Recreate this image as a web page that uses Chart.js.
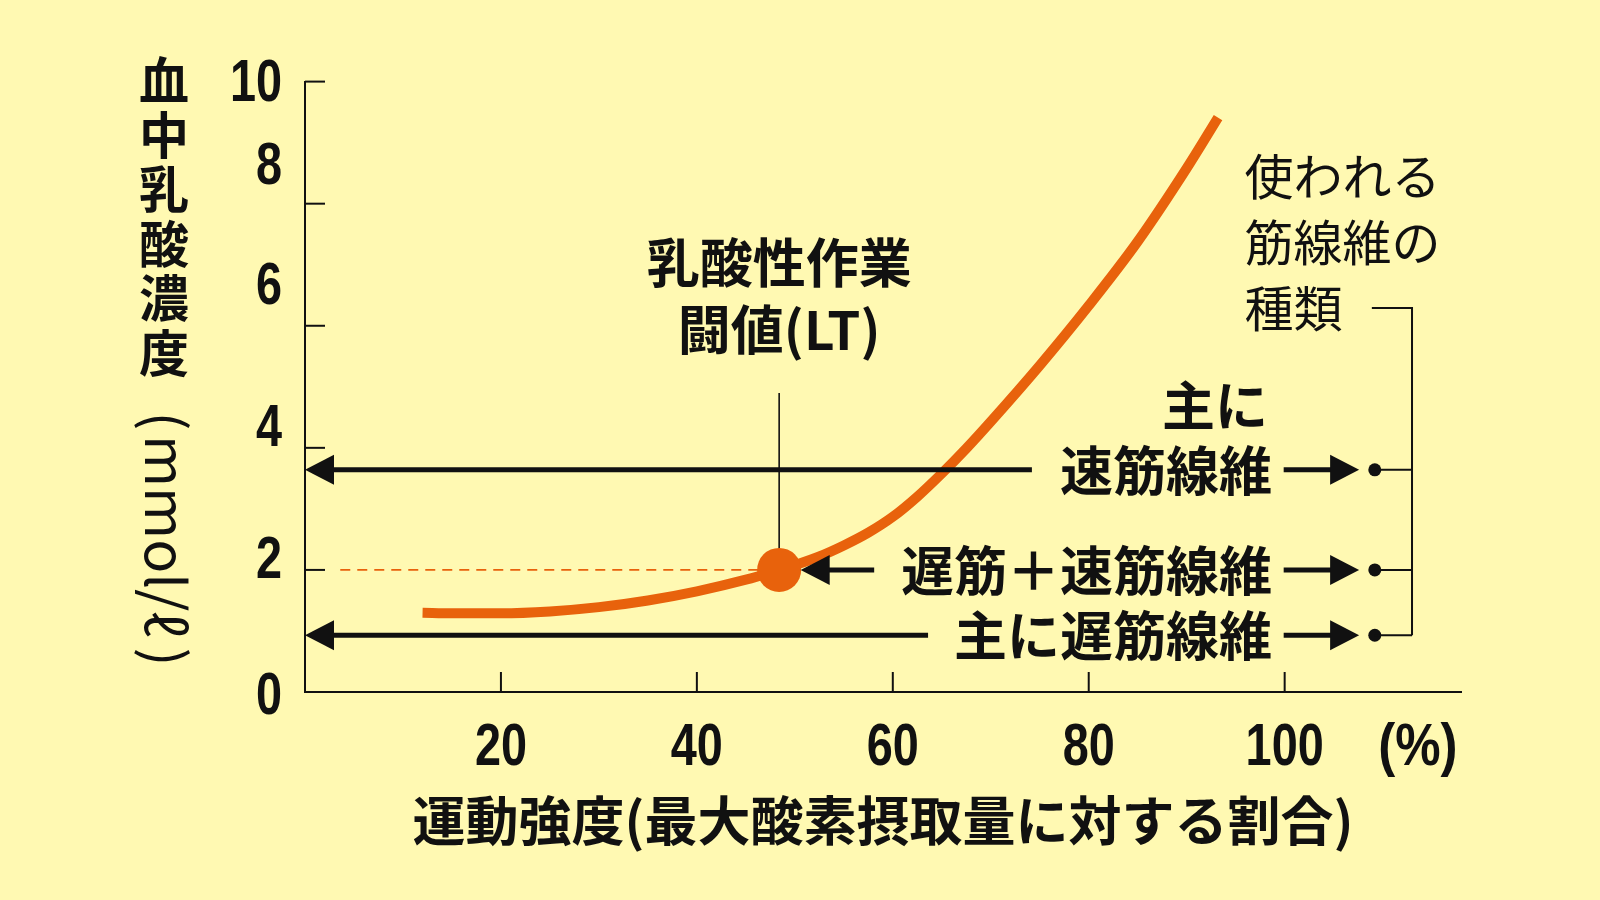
<!DOCTYPE html>
<html><head><meta charset="utf-8">
<script src="https://cdn.jsdelivr.net/npm/chart.js@4/dist/chart.umd.min.js"></script>
<style>html,body{margin:0;padding:0;background:#FFF9B2;} #wrap{width:1600px;height:900px;position:relative;} canvas{display:block}</style>
</head><body><div id="wrap"><canvas id="c" width="1600" height="900"></canvas></div>
<script>
// ---- data ----
const intensity = [12, 15, 20, 25, 30, 35, 40, 45, 48.4, 50, 52.5, 55, 57.5, 60, 62.5, 65, 67.5, 70, 75, 80, 85, 90, 93.2];
const lactate   = [1.30, 1.29, 1.29, 1.32, 1.39, 1.50, 1.65, 1.84, 2.0, 2.08, 2.22, 2.40, 2.61, 2.87, 3.20, 3.58, 3.99, 4.43, 5.35, 6.33, 7.38, 8.58, 9.41];
const ltIntensity = 48.4;
const ltLactate = 2.0;
const xTickValues = [20, 40, 60, 80, 100];
const yTickValues = [0, 2, 4, 6, 8, 10];
const xUnit = '(%)';
const xTitle = '運動強度(最大酸素摂取量に対する割合)';
const yTitleChars = ['血', '中', '乳', '酸', '濃', '度'];
const yUnitParts = ['(', 'mmol/ℓ', ')'];
const ltLabel = ['乳酸性作業', '闘値(LT)'];
const fiberLabels = ['速筋線維', '遅筋＋速筋線維', '主に遅筋線維'];
const fiberPrefix = '主に';
const fiberLevels = [3.64, 2.0, 0.93];
const fiberTitle = ['使われる', '筋線維の', '種類'];

// ---- styles / layout ----
const ORANGE = '#E8620C';
const INK = '#111111';
const DIGITS = "bold 60px 'Liberation Sans', Arial, sans-serif";
const JP = "'Noto Sans CJK JP', 'Noto Sans CJK SC', sans-serif";
const yLabelNudge = {0: 5, 2: -8, 4: -18, 6: -38, 8: -36, 10: 3};

function condText(ctx, t, x, y, align, sx) {
  ctx.save();
  ctx.translate(x, y); ctx.scale(sx, 1);
  ctx.textAlign = align; ctx.textBaseline = 'middle';
  ctx.fillText(t, 0, 0);
  ctx.restore();
}

const annot = {
  id: 'annot',
  beforeDatasetsDraw(chart) {
    const {ctx, scales: {x, y}} = chart;
    const X = v => x.getPixelForValue(v), Y = v => y.getPixelForValue(v);
    ctx.save();
    ctx.strokeStyle = INK; ctx.lineWidth = 2;
    // inward tick marks
    yTickValues.forEach(v => { if (v === 0) return; ctx.beginPath(); ctx.moveTo(X(0), Y(v)); ctx.lineTo(X(0) + 20, Y(v)); ctx.stroke(); });
    xTickValues.forEach(v => { ctx.beginPath(); ctx.moveTo(X(v), Y(0)); ctx.lineTo(X(v), Y(0) - 20); ctx.stroke(); });
    // LT vertical line
    ctx.lineWidth = 1.6;
    ctx.beginPath(); ctx.moveTo(X(ltIntensity), Y(4.9)); ctx.lineTo(X(ltIntensity), Y(ltLactate)); ctx.stroke();
    ctx.restore();
  },
  afterDatasetsDraw(chart) {
    const {ctx, scales: {x, y}} = chart;
    const X = v => x.getPixelForValue(v), Y = v => y.getPixelForValue(v);
    ctx.save();
    ctx.fillStyle = INK; ctx.strokeStyle = INK;
    // tick labels (condensed bold digits)
    ctx.font = DIGITS;
    yTickValues.forEach(v => condText(ctx, String(v), X(0) - 23, Y(v) + yLabelNudge[v], 'right', 0.78));
    xTickValues.forEach(v => condText(ctx, String(v), X(v), Y(0) + 56, 'center', 0.78));
    condText(ctx, xUnit, X(113.6), Y(0) + 56, 'center', 0.85);
    // y title (vertical)
    ctx.textAlign = 'center'; ctx.textBaseline = 'middle';
    ctx.font = "bold 50px " + JP;
    yTitleChars.forEach((ch, i) => ctx.fillText(ch, 164, 80 + i * 54.6));
    // unit, rotated clockwise
    ctx.save();
    ctx.translate(145, 0); ctx.rotate(Math.PI / 2);
    ctx.font = "55px " + JP;
    ctx.textBaseline = 'alphabetic'; ctx.textAlign = 'center';
    ctx.fillText(yUnitParts[0], 421, 0);
    ctx.fillText(yUnitParts[2], 657, 0);
    ctx.save();
    ctx.translate(536, 0);
    ctx.scale(202 / ctx.measureText(yUnitParts[1]).width, 1);
    ctx.fillText(yUnitParts[1], 0, 0);
    ctx.restore();
    ctx.restore();
    // LT label
    ctx.textAlign = 'center'; ctx.textBaseline = 'middle';
    ctx.font = "bold 53px " + JP;
    ctx.fillText(ltLabel[0], X(ltIntensity), Y(4.9) - 130);
    ctx.fillText(ltLabel[1], X(ltIntensity), Y(4.9) - 63);
    // fiber labels
    const head = (tipX, yy, dir) => {
      ctx.beginPath(); ctx.moveTo(tipX, yy); ctx.lineTo(tipX - dir * 29, yy - 15); ctx.lineTo(tipX - dir * 29, yy + 15); ctx.closePath(); ctx.fill();
    };
    ctx.textAlign = 'right';
    const labelRight = X(98.7);
    fiberLabels.forEach((t, i) => ctx.fillText(t, labelRight, Y(fiberLevels[i]) + 1));
    ctx.fillText(fiberPrefix, labelRight - 4, Y(fiberLevels[0]) - 64);
    ctx.lineWidth = 5;
    // left arrows
    const leftSpans = [[74.2, 0], [58.1, 50.6], [63.6, 0]];
    leftSpans.forEach(([from, tip], i) => {
      const yy = Y(fiberLevels[i]);
      ctx.beginPath(); ctx.moveTo(X(from), yy); ctx.lineTo(X(tip) + 20, yy); ctx.stroke();
      head(X(tip), yy, -1);
    });
    // right arrows, dots, bracket
    fiberLevels.forEach(lv => {
      const yy = Y(lv);
      ctx.lineWidth = 5;
      ctx.beginPath(); ctx.moveTo(X(99.9), yy); ctx.lineTo(X(107.6) - 20, yy); ctx.stroke();
      head(X(107.6), yy, 1);
      ctx.beginPath(); ctx.arc(X(109.2), yy, 6.5, 0, Math.PI * 2); ctx.fill();
      ctx.lineWidth = 2;
      ctx.beginPath(); ctx.moveTo(X(109.2), yy); ctx.lineTo(X(113.0), yy); ctx.stroke();
    });
    ctx.lineWidth = 2;
    ctx.beginPath(); ctx.moveTo(X(108.9), Y(6.29)); ctx.lineTo(X(113.0), Y(6.29)); ctx.lineTo(X(113.0), Y(fiberLevels[2])); ctx.stroke();
    // fiber title
    ctx.font = "49px " + JP;
    ctx.textAlign = 'left';
    fiberTitle.forEach((t, i) => ctx.fillText(t, X(95.9), Y(6.29) + (i - 2) * 66));
    ctx.restore();
  }
};

new Chart(document.getElementById('c'), {
  type: 'scatter',
  data: {
    datasets: [
      { label: 'LT', data: [{x: ltIntensity, y: ltLactate}], pointRadius: 22, pointHoverRadius: 22,
        backgroundColor: ORANGE, borderWidth: 0, order: 0 },
      { label: 'lactate', data: intensity.map((v, i) => ({x: v, y: lactate[i]})), showLine: true,
        borderColor: ORANGE, borderWidth: 10, pointRadius: 0, cubicInterpolationMode: 'monotone', order: 1 },
      { label: 'LT level', data: [{x: 3.6, y: ltLactate}, {x: ltIntensity, y: ltLactate}], showLine: true,
        borderColor: ORANGE, borderWidth: 1.8, borderDash: [10, 7], pointRadius: 0, order: 2 }
    ]
  },
  options: {
    responsive: false, animation: false, events: [],
    layout: { padding: { left: 305, right: 139, top: 81.6, bottom: 0 } },
    plugins: { legend: { display: false }, tooltip: { enabled: false } },
    scales: {
      x: {
        type: 'linear', min: 0, max: 118,
        afterBuildTicks: s => { s.ticks = xTickValues.map(v => ({value: v})); },
        afterFit: s => { s.height = 208; },
        grid: { display: false, drawTicks: false },
        border: { display: true, color: INK, width: 2 },
        ticks: { display: false },
        title: { display: true, text: xTitle, color: INK, padding: { top: 0, bottom: 47 },
                 font: { family: JP, size: 53, weight: 'bold' } }
      },
      y: {
        type: 'linear', min: 0, max: 10,
        afterBuildTicks: s => { s.ticks = yTickValues.map(v => ({value: v})); },
        afterFit: s => { s.width = 0; },
        grid: { display: false, drawTicks: false },
        border: { display: true, color: INK, width: 2 },
        ticks: { display: false }
      }
    }
  },
  plugins: [annot]
});
</script>
</body></html>
